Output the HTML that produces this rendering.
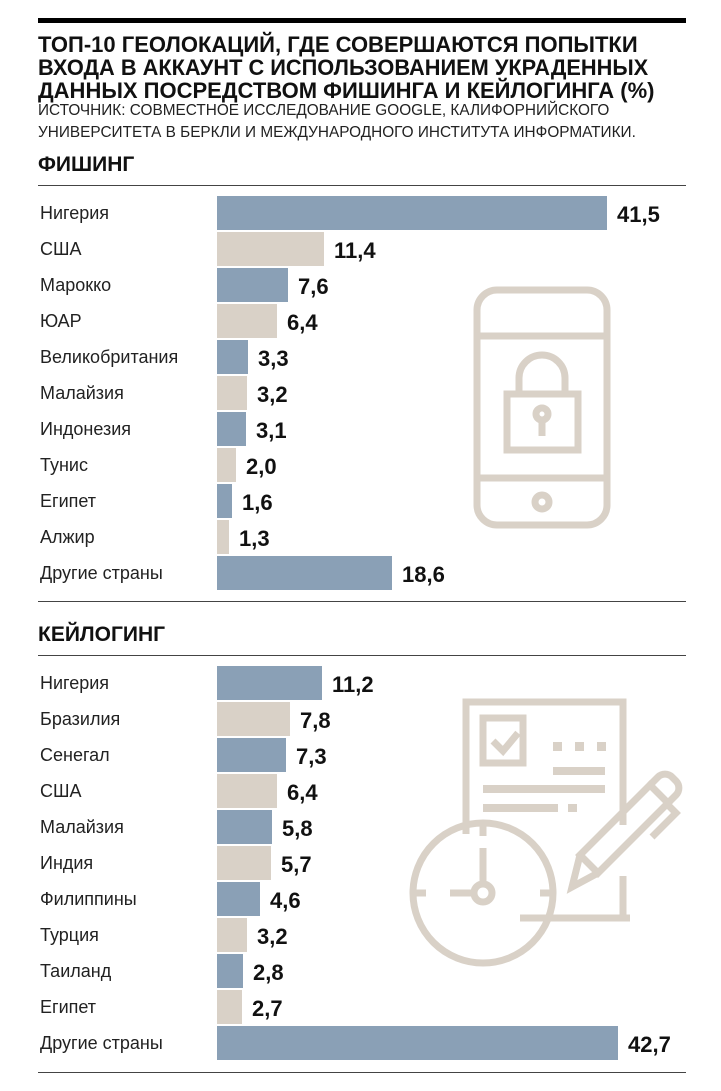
<!DOCTYPE html>
<html><head><meta charset="utf-8"><style>
body{margin:0;width:721px;height:1091px;background:#fff;position:relative;font-family:"Liberation Sans Narrow","Liberation Sans",sans-serif;color:#111;overflow:hidden}
.a{position:absolute;white-space:nowrap}
.t{font-weight:bold;font-size:22px;line-height:22px;left:38px}
.s{font-size:16px;left:38px;color:#222;transform-origin:0 0;transform:scaleX(0.96)}
.h{font-weight:bold;font-size:21px;left:38px}
.r{position:absolute;left:38px;width:648px;background:#444}
.l{position:absolute;left:40px;font-family:"Liberation Sans",sans-serif;font-size:18px;color:#222;line-height:36px}
.b{position:absolute;left:217px;height:34px}
.v{position:absolute;font-family:"Liberation Sans",sans-serif;font-size:22px;font-weight:bold;line-height:36px}
</style></head><body>
<div class="r" style="top:18px;height:5px;background:#000"></div>
<div class="a t" style="top:34px">ТОП-10 ГЕОЛОКАЦИЙ, ГДЕ СОВЕРШАЮТСЯ ПОПЫТКИ</div>
<div class="a t" style="top:57px;transform-origin:0 0;transform:scaleX(0.99)">ВХОДА В АККАУНТ С ИСПОЛЬЗОВАНИЕМ УКРАДЕННЫХ</div>
<div class="a t" style="top:80px">ДАННЫХ ПОСРЕДСТВОМ ФИШИНГА И КЕЙЛОГИНГА (%)</div>
<div class="a s" style="top:102px">ИСТОЧНИК: СОВМЕСТНОЕ ИССЛЕДОВАНИЕ GOOGLE, КАЛИФОРНИЙСКОГО</div>
<div class="a s" style="top:124px">УНИВЕРСИТЕТА В БЕРКЛИ И МЕЖДУНАРОДНОГО ИНСТИТУТА ИНФОРМАТИКИ.</div>
<div class="a h" style="top:153px">ФИШИНГ</div>
<div class="r" style="top:185px;height:1px"></div>
<div class="r" style="top:601px;height:1px"></div>
<div class="a h" style="top:623px">КЕЙЛОГИНГ</div>
<div class="r" style="top:655px;height:1px"></div>
<div class="r" style="top:1072px;height:1px"></div>

<svg class="a" style="left:0;top:0" width="721" height="1091">
<g fill="none" stroke="#d9d1c7" stroke-width="7">
<rect x="477" y="290" width="130" height="235" rx="20"/>
<line x1="477" y1="336" x2="607" y2="336"/>
<line x1="477" y1="478" x2="607" y2="478"/>
<circle cx="542" cy="502" r="7"/>
<rect x="507" y="394" width="71" height="56"/>
<path d="M519 394 V378 a23 23 0 0 1 46 0 V394"/>
<circle cx="542" cy="414" r="6"/>
<line x1="542" y1="418" x2="542" y2="436"/>
<path d="M520 918 L630 918" />
<path d="M466 834 V702 H623 V825"/>
<path d="M623 876 V918 H548"/>
<rect x="483" y="718" width="40" height="45"/>
<path d="M493 741 l10 10 l15 -18"/>
<circle cx="483" cy="893" r="70"/>
<circle cx="483" cy="893" r="9"/>
<line x1="483" y1="848" x2="483" y2="884"/>
<line x1="450" y1="893" x2="474" y2="893"/>
<line x1="483" y1="823" x2="483" y2="836"/>
<line x1="413" y1="893" x2="426" y2="893"/>
<line x1="540" y1="893" x2="553" y2="893"/>
<path d="M580 855 L650 785 L668 803 L598 873 Z"/>
<path d="M580 855 L572 887 L598 873"/>
<path d="M650 785 l8 -8 a10 10 0 0 1 14 0 l4 4 a10 10 0 0 1 0 14 l-8 8"/>
<path d="M666 803 l10 10 l-24 24"/>
</g>
<g fill="#d9d1c7">
<rect x="553" y="742" width="9" height="9"/><rect x="575" y="742" width="9" height="9"/><rect x="597" y="742" width="9" height="9"/>
<rect x="553" y="767" width="52" height="8"/>
<rect x="483" y="785" width="122" height="8"/>
<rect x="483" y="804" width="75" height="8"/><rect x="568" y="804" width="9" height="8"/>
</g>
</svg>

<div id="c"></div>
<script>
var P=[["Нигерия",41.5],["США",11.4],["Марокко",7.6],["ЮАР",6.4],["Великобритания",3.3],["Малайзия",3.2],["Индонезия",3.1],["Тунис",2.0],["Египет",1.6],["Алжир",1.3],["Другие страны",18.6]];
var K=[["Нигерия",11.2],["Бразилия",7.8],["Сенегал",7.3],["США",6.4],["Малайзия",5.8],["Индия",5.7],["Филиппины",4.6],["Турция",3.2],["Таиланд",2.8],["Египет",2.7],["Другие страны",42.7]];
var h="";
function draw(d,y0){d.forEach(function(r,i){var y=y0+i*36,w=Math.round(r[1]*9.4),c=i%2?"#d9d1c7":"#8aa0b6";
h+='<div class="l" style="top:'+(y-18)+'px">'+r[0]+'</div>';
h+='<div class="b" style="top:'+(y-17)+'px;width:'+w+'px;background:'+c+'"></div>';
h+='<div class="v" style="top:'+(y-16)+'px;left:'+(217+w+10)+'px">'+r[1].toFixed(1).replace(".",",")+'</div>';});}
draw(P,213);draw(K,683);
document.getElementById("c").innerHTML=h;
</script>
</body></html>
